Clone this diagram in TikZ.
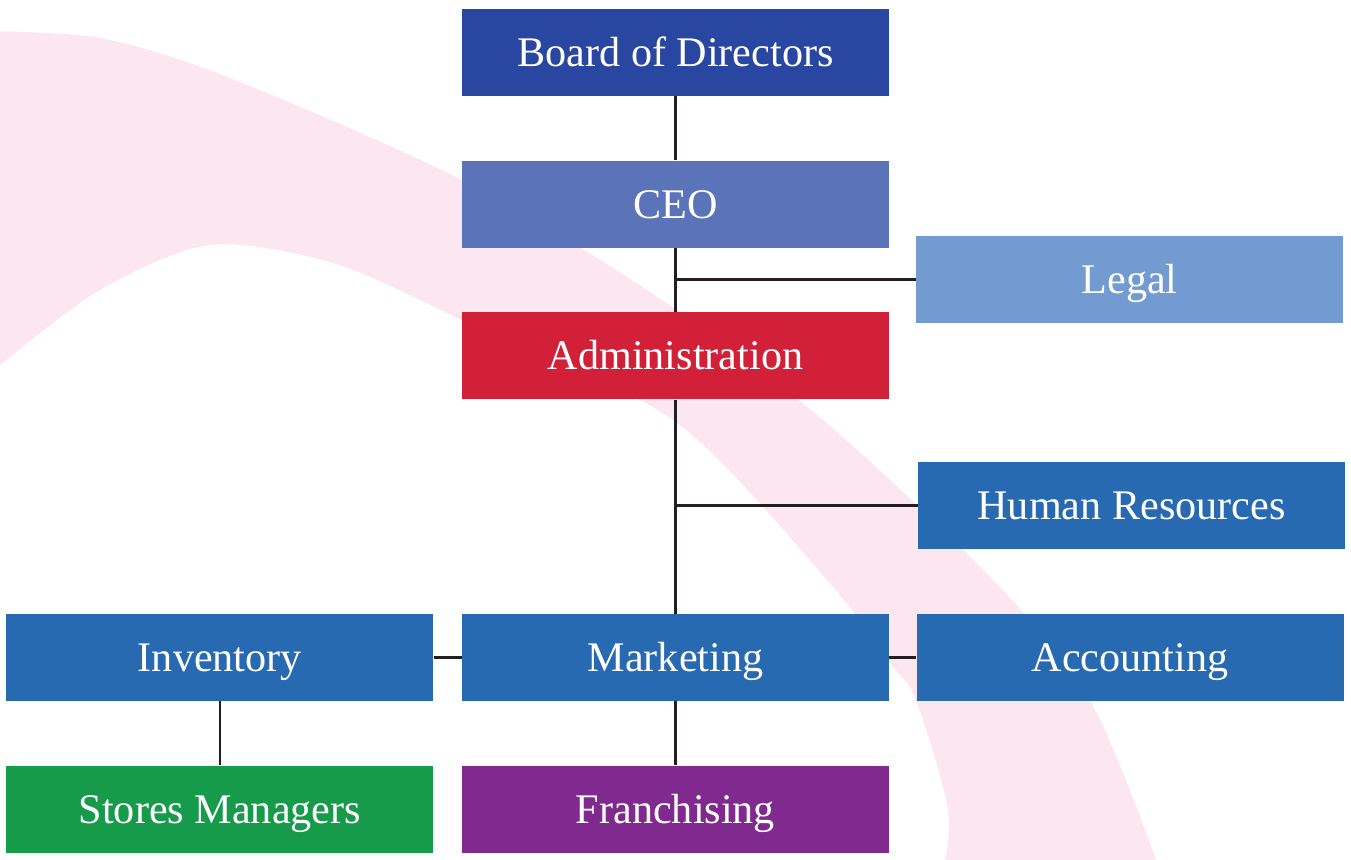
\documentclass[tikz,border=0pt]{standalone}
\usepackage{fontspec}
\setmainfont{Liberation Serif}
\usepackage{tikz}
\usetikzlibrary{positioning}

\definecolor{bandpink}{RGB}{252,230,239}
\definecolor{boardblue}{RGB}{41,71,160}
\definecolor{ceoblue}{RGB}{91,115,184}
\definecolor{legalblue}{RGB}{114,156,209}
\definecolor{adminred}{RGB}{209,32,56}
\definecolor{deptblue}{RGB}{40,106,178}
\definecolor{storegreen}{RGB}{22,155,74}
\definecolor{franchpurple}{RGB}{128,41,142}
\definecolor{linkgray}{RGB}{35,31,32}

\begin{document}
\begin{tikzpicture}[
    x=0.02cm, y=-0.02cm,
    box/.style={fill=#1, text=white, minimum width=8.54cm, minimum height=1.74cm, inner sep=0pt,
        text height=15.9pt, text depth=0pt, font=\fontsize{24}{28}\selectfont},
    link/.style={draw=linkgray, line width=1.4pt}
]
\useasboundingbox (0,0) rectangle (1351,859);

% Background band
\begin{scope}
\clip (0,0) rectangle (1351,859);
\fill[bandpink] plot[smooth] coordinates {(-20,31) (100,38) (230,78) (460,179) (650,292) (823,420) (993,580) (1090,700) (1160,870)}
    -- plot[smooth] coordinates {(943,870) (948,810) (916,700) (890,663) (827,580) (673,420) (460,319) (333,263) (210,245) (100,290) (0,365) (-20,382)}
    -- cycle;
\end{scope}

% Top of the chart
\node[box=boardblue] (board) at (675.5,52.5) {Board of Directors};
\node[box=ceoblue, below=1.28cm of board] (ceo) {CEO};
\node[box=adminred, below=1.28cm of ceo] (admin) {Administration};
\node[box=legalblue] (legal) at (1129.5,279.5) {Legal};
\node[box=deptblue] (hr) at (1131.5,505.5) {Human Resources};

% Departments
\node[box=deptblue] (marketing) at (675.5,657.5) {Marketing};
\node[box=deptblue, left=0.56cm of marketing] (inventory) {Inventory};
\node[box=deptblue, right=0.54cm of marketing] (accounting) {Accounting};
\node[box=franchpurple, below=1.28cm of marketing] (franchise) {Franchising};
\node[box=storegreen, below=1.28cm of inventory] (stores) {Stores Managers};

\draw[link] (board) -- (ceo);
\draw[link] (ceo) -- (admin);
\draw[link] (admin) -- (marketing);
\draw[link] (legal.west -| ceo.south) -- (legal);
\draw[link] (hr.west -| admin.south) -- (hr);
\draw[link] (inventory) -- (marketing);
\draw[link] (marketing) -- (accounting);
\draw[link] (inventory) -- (stores);
\draw[link] (marketing) -- (franchise);
\end{tikzpicture}
\end{document}
